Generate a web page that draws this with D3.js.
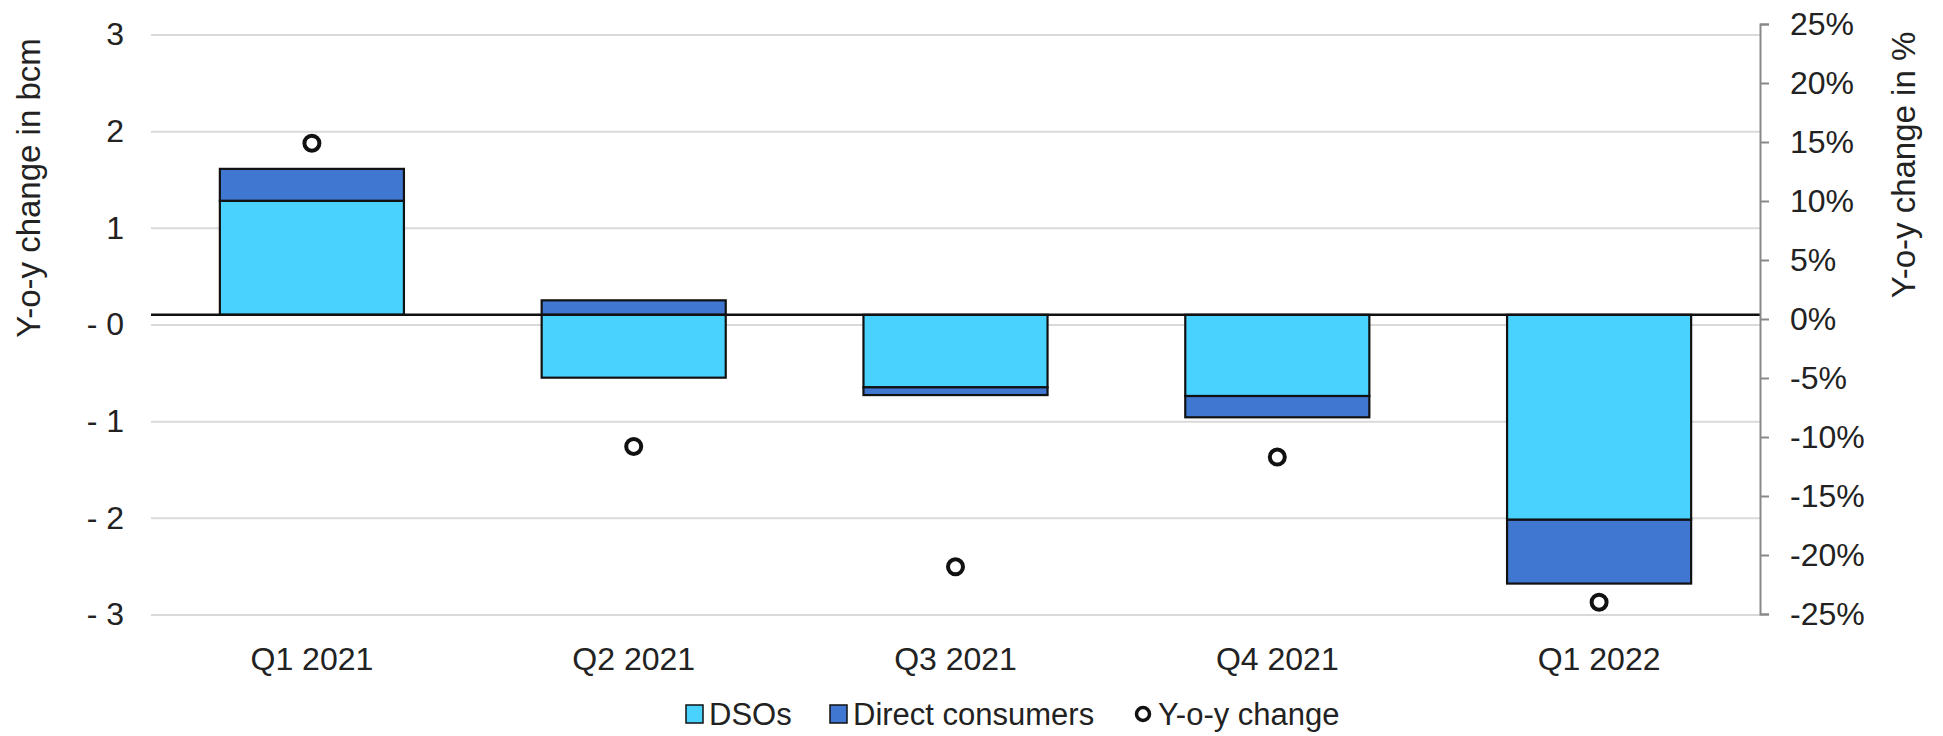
<!DOCTYPE html>
<html>
<head>
<meta charset="utf-8">
<script src="https://cdn.jsdelivr.net/npm/d3@7"></script>
<style>
  html, body { margin: 0; padding: 0; background: #fff; }
  svg text { font-family: "Liberation Sans", Arial, sans-serif; fill: #222; }
</style>
</head>
<body>
<svg id="chart" width="1943" height="736"></svg>
<script>
// Quarterly y-o-y change of gas consumption, split by customer group (bcm),
// with the total y-o-y change in percent on the secondary axis.
const categories = ["Q1 2021", "Q2 2021", "Q3 2021", "Q4 2021", "Q1 2022"];
const dsos = [1.18, -0.65, -0.75, -0.84, -2.12];
const directConsumers = [0.33, 0.15, -0.08, -0.22, -0.66];
const yoyChangePct = [14.9, -10.8, -21.0, -11.7, -24.0];

// Left axis gridlines sit slightly below whole numbers, hence the "- 0" label.
const leftTickValues = [2.9, 1.9, 0.9, -0.1, -1.1, -2.1, -3.1];
const leftTickLabels = ["3", "2", "1", "- 0", "- 1", "- 2", "- 3"];
const rightTickValues = [25, 20, 15, 10, 5, 0, -5, -10, -15, -20, -25];

const seriesKeys = ["DSOs", "Direct consumers"];
const seriesColors = { "DSOs": "#48D2FD", "Direct consumers": "#4077D1" };

const svg = d3.select("#chart");
const plotLeft = 151, plotRight = 1760;

const x = d3.scaleBand()
  .domain(categories)
  .range([plotLeft, plotRight])
  .paddingInner(0.428)
  .paddingOuter(0.214);

const y = d3.scaleLinear().domain([-3.1, 2.9]).range([614.5, 34.5]);
const yPct = d3.scaleLinear().domain([-25, 25]).range([614, 24]);

// Gridlines
svg.append("g")
  .attr("transform", `translate(${plotLeft},0)`)
  .call(d3.axisLeft(y).tickValues(leftTickValues).tickSize(-(plotRight - plotLeft)).tickFormat(""))
  .call(g => g.select(".domain").remove())
  .call(g => g.selectAll(".tick line").attr("stroke", "#D9D9D9").attr("stroke-width", 2));

// Left tick labels
svg.append("g")
  .attr("transform", `translate(124,0)`)
  .call(d3.axisLeft(y).tickValues(leftTickValues).tickSize(0)
    .tickFormat((d, i) => leftTickLabels[i]))
  .call(g => g.select(".domain").remove())
  .call(g => g.selectAll(".tick text").attr("font-size", 32).attr("x", 0).attr("fill", "#222"));

// Stacked bars (diverging around zero)
const table = categories.map((c, i) => ({ category: c, "DSOs": dsos[i], "Direct consumers": directConsumers[i] }));
const stacked = d3.stack().keys(seriesKeys).offset(d3.stackOffsetDiverging)(table);

svg.append("g")
  .selectAll("g")
  .data(stacked)
  .join("g")
  .attr("fill", d => seriesColors[d.key])
  .selectAll("rect")
  .data(d => d)
  .join("rect")
  .attr("x", d => x(d.data.category))
  .attr("width", x.bandwidth())
  .attr("y", d => y(Math.max(d[0], d[1])))
  .attr("height", d => Math.abs(y(d[0]) - y(d[1])))
  .attr("stroke", "#111")
  .attr("stroke-width", 2.2);

// Zero line
svg.append("line")
  .attr("x1", plotLeft).attr("x2", plotRight)
  .attr("y1", y(0)).attr("y2", y(0))
  .attr("stroke", "#111").attr("stroke-width", 2.5);

// Right axis (percent)
svg.append("g")
  .attr("transform", `translate(${plotRight},0)`)
  .call(d3.axisRight(yPct).tickValues(rightTickValues).tickSize(9).tickPadding(21)
    .tickFormat(d => d + "%"))
  .call(g => g.select(".domain").attr("stroke", "#888").attr("stroke-width", 2))
  .call(g => g.selectAll(".tick line").attr("stroke", "#888").attr("stroke-width", 2))
  .call(g => g.selectAll(".tick text").attr("font-size", 32).attr("fill", "#222"));

// Y-o-y change markers
svg.append("g")
  .selectAll("circle")
  .data(yoyChangePct)
  .join("circle")
  .attr("cx", (d, i) => x(categories[i]) + x.bandwidth() / 2)
  .attr("cy", d => yPct(d))
  .attr("r", 7.5)
  .attr("fill", "#fff")
  .attr("stroke", "#111")
  .attr("stroke-width", 4);

// Category labels
svg.append("g")
  .attr("transform", `translate(0,614)`)
  .call(d3.axisBottom(x).tickSize(0).tickPadding(0))
  .call(g => g.select(".domain").remove())
  .call(g => g.selectAll(".tick text").attr("font-size", 32).attr("dy", null).attr("y", 56).attr("fill", "#222"));

// Axis titles
svg.append("text")
  .attr("transform", "translate(40,188) rotate(-90)")
  .attr("text-anchor", "middle")
  .attr("font-size", 33)
  .text("Y-o-y change in bcm");

svg.append("text")
  .attr("transform", "translate(1915,165) rotate(-90)")
  .attr("text-anchor", "middle")
  .attr("font-size", 33)
  .text("Y-o-y change in %");

// Legend
const legendY = 714;
const legend = svg.append("g");
const legendItems = [
  { label: "DSOs", type: "rect", color: seriesColors["DSOs"], x: 686 },
  { label: "Direct consumers", type: "rect", color: seriesColors["Direct consumers"], x: 830 },
  { label: "Y-o-y change", type: "circle", x: 1135 }
];
legendItems.forEach(item => {
  if (item.type === "rect") {
    legend.append("rect")
      .attr("x", item.x).attr("y", legendY - 9)
      .attr("width", 17).attr("height", 18)
      .attr("fill", item.color).attr("stroke", "#111").attr("stroke-width", 1.5);
  } else {
    legend.append("circle")
      .attr("cx", item.x + 8).attr("cy", legendY)
      .attr("r", 6.5).attr("fill", "#fff").attr("stroke", "#111").attr("stroke-width", 3.5);
  }
  legend.append("text")
    .attr("x", item.x + 23).attr("y", legendY + 11)
    .attr("font-size", 31)
    .text(item.label);
});
</script>
</body>
</html>
